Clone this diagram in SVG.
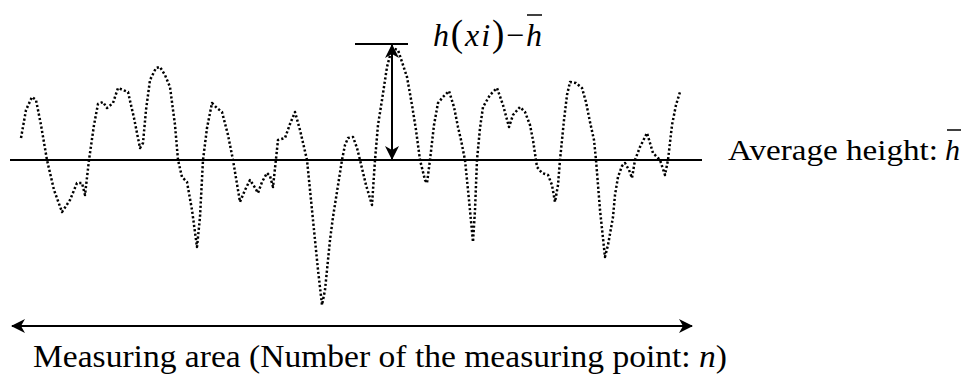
<svg xmlns="http://www.w3.org/2000/svg" width="964" height="374" viewBox="0 0 964 374">
<style>
.ln{stroke:#000;stroke-width:2;fill:none}
.prof{stroke:#000;stroke-width:2.5;fill:none;stroke-dasharray:2.2 2.2;stroke-linejoin:round}
.t{font-family:"Liberation Serif","Times New Roman",serif;fill:#000}
.it{font-style:italic}
</style>
<defs>
<marker id="ah" viewBox="0 0 14 14" refX="13" refY="7" markerWidth="14" markerHeight="14" markerUnits="userSpaceOnUse" orient="auto-start-reverse">
<path d="M0,0 L14,7 L0,14 L4,7 Z" fill="#000"/>
</marker>
</defs>
<rect width="964" height="374" fill="#fff"/>
<g id="profile">
<path class="prof" d="M21,138 L26,110 L32,97 L36,100 L41,125 L47,160 L54,190 L62,212 L70,200 L77,183 L82,183 L85,195 L89,160 L94,125 L98,104 L103,102 L107,108 L113,103 L118,88 L123,90 L128,92 L134,118 L140,148 L143,143 L146,110 L150,80 L156,68 L160,67 L165,75 L170,87 L175,125 L178,160 L182,177 L187,182 L192,210 L197,247 L200,217 L203,160 L207,128 L212,103 L217,108 L222,112 L228,135 L233,160 L240,202 L245,190 L250,180 L254,186 L258,193 L262,182 L267,173 L270,176 L273,187 L278,140 L285,138 L290,124 L295,112 L300,130 L307,160 L314,230 L318,270 L322,305 L325,290 L330,240 L333,217 L342,160 L345,145 L348,138 L353,137 L357,148 L360,160 L366,185 L372,205 L375,160 L378,125 L382,100 L387,67 L392,48 L398,50 L402,62 L407,77 L412,105 L416,130 L420,160 L425,180 L427,183 L430,160 L434,125 L438,103 L443,97 L449,91 L454,107 L458,127 L461,140 L465,160 L469,200 L473,242 L475,210 L477,160 L480,128 L483,107 L490,95 L497,88 L503,105 L509,127 L513,115 L520,107 L525,112 L530,125 L533,140 L537,167 L542,173 L548,175 L552,185 L555,202 L558,185 L560,160 L564,120 L567,95 L570,82 L576,83 L582,88 L586,102 L590,122 L594,140 L596,160 L600,210 L605,257 L608,245 L613,217 L615,195 L618,177 L622,166 L625,163 L629,170 L632,178 L635,160 L640,147 L647,133 L650,143 L653,153 L658,158 L660,160 L665,175 L668,160 L672,125 L676,105 L680,92"/>
</g>
<g id="average-line">
<line class="ln" x1="10" y1="160" x2="702" y2="160"/>
</g>
<g id="peak-tick">
<line class="ln" x1="355" y1="44" x2="408" y2="44"/>
</g>
<g id="connectors">
<line class="ln" x1="392" y1="45" x2="392" y2="159" marker-start="url(#ah)" marker-end="url(#ah)"/>
<line class="ln" x1="12" y1="326" x2="692" y2="326" marker-start="url(#ah)" marker-end="url(#ah)"/>
</g>
<g id="label-deviation">
<text class="t it" x="433" y="46" font-size="32" textLength="109" lengthAdjust="spacing">h<tspan font-style="normal" font-size="37">(</tspan>xi<tspan font-style="normal" font-size="37">)</tspan><tspan font-style="normal">−</tspan>h</text>
<line x1="527" y1="15" x2="542" y2="15" stroke="#000" stroke-width="1.5"/>
</g>
<g id="label-average">
<text class="t" x="728" y="160" font-size="30" textLength="210" lengthAdjust="spacingAndGlyphs">Average height:</text>
<text class="t it" x="945" y="160" font-size="30">h</text>
<line x1="947" y1="130" x2="961" y2="130" stroke="#000" stroke-width="1.5"/>
</g>
<g id="label-area">
<text class="t" x="33" y="367" font-size="32" textLength="694" lengthAdjust="spacingAndGlyphs">Measuring area (Number of the measuring point: <tspan class="it">n</tspan>)</text>
</g>
</svg>
